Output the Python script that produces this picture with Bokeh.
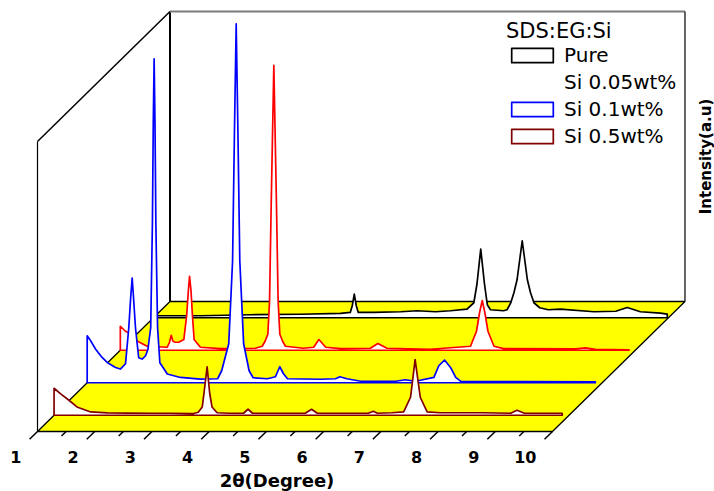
import numpy as np
from bokeh.plotting import figure
from bokeh.models import Range1d, Legend, LegendItem, Label
from bokeh.core.properties import value
from bokeh.embed import file_html
from bokeh.resources import INLINE

# ---------------- data ----------------
series_names = ["Pure", "Si 0.05wt%", "Si 0.1wt%", "Si 0.5wt%"]
series_colors = ["#000000", "#FF0000", "#0000FF", "#800000"]
legend_title = "SDS:EG:Si"

# Pure (back row)
two_theta_pure = [1.00, 1.82, 2.70, 3.57, 4.27, 4.44, 4.475, 4.51, 4.545, 4.58,
                  4.85, 5.32, 5.61, 5.93, 6.19, 6.48, 6.60, 6.655, 6.72, 6.785,
                  6.835, 6.89, 7.12, 7.18, 7.245, 7.30, 7.355, 7.445, 7.535, 7.59,
                  7.65, 7.75, 7.90, 8.11, 8.70, 9.08, 9.28, 9.51, 9.86, 9.98]
intensity_pure = [2, 2, 3, 3.5, 4.3, 5.3, 12, 23.7, 12, 5.3,
                  5.3, 6, 7, 6, 7, 8.7, 15, 34, 68.7, 34,
                  13, 8, 7, 8, 15, 25, 38, 77, 38, 25,
                  15, 10, 8, 8.7, 6, 6.5, 10.3, 6, 4.7, 3.7]

# Si 0.05wt%
two_theta_005 = [1.00, 1.09, 1.15, 1.30, 1.47, 1.82, 1.86, 1.89, 1.92, 1.96,
                 2.02, 2.11, 2.16, 2.19, 2.21, 2.235, 2.26, 2.29, 2.40, 2.75,
                 3.36, 3.48, 3.53, 3.578, 3.608, 3.638, 3.683, 3.728, 3.758, 3.788,
                 3.836, 3.886, 4.20, 4.38, 4.47, 4.59, 4.85, 5.37, 5.50, 5.66,
                 6.42, 7.12, 7.225, 7.28, 7.325, 7.37, 7.425, 7.53, 7.70, 8.96,
                 9.13, 9.30, 9.89]
intensity_005 = [24, 19, 17.3, 9, 4, 3, 8, 15, 9, 8,
                 8, 10.7, 35, 60, 74, 60, 35, 10.7, 3, 1.7,
                 2, 4, 9, 16, 49, 149, 285, 149, 49, 16,
                 9, 4, 2, 3, 10.7, 3, 1.7, 2, 6.7, 2,
                 1, 4, 19, 38, 49.7, 38, 19, 4, 1.7, 1.5,
                 2.3, 1, 0.5]

# Si 0.1wt%
two_theta_01 = [1.00, 1.06, 1.145, 1.26, 1.35, 1.495, 1.58, 1.67, 1.727, 1.76,
                1.786, 1.81, 1.844, 1.90, 1.96, 2.02, 2.06, 2.11, 2.14, 2.155,
                2.17, 2.185, 2.20, 2.23, 2.27, 2.40, 2.63, 2.98, 3.28, 3.35,
                3.474, 3.541, 3.574, 3.604, 3.634, 3.667, 3.734, 3.83, 3.90, 4.15,
                4.29, 4.366, 4.43, 4.50, 5.08, 5.34, 5.415, 5.54, 5.78, 6.39,
                6.56, 6.74, 7.06, 7.145, 7.245, 7.35, 7.44, 7.53, 8.50, 9.88]
intensity_01 = [47, 42, 33.7, 25.3, 20.3, 15.3, 13.7, 19, 55, 85,
                104.7, 85, 55, 25, 23.7, 27, 33, 55, 160, 260,
                324, 260, 160, 55, 20, 8.7, 5.3, 3.7, 4, 12,
                39, 122, 252, 359, 252, 122, 39, 12, 5, 4,
                6, 16, 9, 4, 3.5, 4, 6, 4, 1.5, 1.5,
                3, 1.5, 5.3, 17, 22.7, 15.3, 5.3, 1.3, 1.2, 1.0]

# Si 0.5wt% (front row)
two_theta_05 = [1.00, 1.11, 1.26, 1.40, 1.64, 1.93, 2.30, 2.68, 3.05, 3.44,
                3.52, 3.59, 3.62, 3.675, 3.72, 3.76, 3.85, 4.05, 4.31, 4.39,
                4.47, 4.70, 4.96, 5.39, 5.50, 5.60, 6.00, 6.49, 6.58, 6.65,
                6.90, 7.11, 7.23, 7.31, 7.40, 7.52, 7.75, 8.10, 8.50, 8.98,
                9.09, 9.22, 9.50, 9.88]
intensity_05 = [27, 21.7, 15, 8.3, 3.3, 2.3, 2.2, 2, 2, 1.7,
                3, 8.3, 22, 48.3, 22, 8.3, 2.5, 2, 2, 6,
                2, 2, 2, 2, 6, 2, 2, 2, 4, 2,
                2.5, 3.3, 18, 55.7, 18, 3.3, 2.5, 2.5, 2.5, 2,
                5, 2, 2, 2]

series_x = [two_theta_pure, two_theta_005, two_theta_01, two_theta_05]
series_y = [intensity_pure, intensity_005, intensity_01, intensity_05]

tick_values = [1, 2, 3, 4, 5, 6, 7, 8, 9, 10]
tick_labels = ["1", "2", "3", "4", "5", "6", "7", "8", "9", "10"]
minor_tick_values = [1.5, 2.5, 3.5, 4.5, 5.5, 6.5, 7.5, 8.5, 9.5]

X_MIN, X_MAX = 1.0, 10.0
Z_MAX = 290.0            # top of the intensity (wall) axis

# ---------------- layout / projection ----------------
W, H = 714, 491
PX_PER_X = 57.22         # pixels per degree along the front edge
LEFT_PX, BOTTOM_PX = 37, 60
DEPTH_DX = 132.5 / PX_PER_X   # x shift of full depth (in degrees)
DEPTH_DY = 130.0              # y shift of full depth (intensity units = px)
depth_pos = [0.875, 0.625, 0.375, 0.125]   # back -> front

FONT = value("DejaVu Sans")

p = figure(width=W, height=H, output_backend="svg", toolbar_location=None,
           x_range=Range1d(X_MIN - LEFT_PX / PX_PER_X, X_MIN + (W - LEFT_PX) / PX_PER_X),
           y_range=Range1d(-BOTTOM_PX, H - BOTTOM_PX),
           x_axis_type=None, y_axis_type=None, min_border=0)
p.outline_line_color = None
p.background_fill_color = "white"
p.border_fill_color = "white"

bx0, bx1 = X_MIN + DEPTH_DX, X_MAX + DEPTH_DX

# walls
p.line([X_MIN, X_MIN], [0, Z_MAX], line_color="black", line_width=1.2)
p.line([X_MIN, bx0], [Z_MAX, DEPTH_DY + Z_MAX], line_color="black", line_width=1.5)
p.line([bx0, bx0], [DEPTH_DY, DEPTH_DY + Z_MAX], line_color="black", line_width=2)
p.line([bx0, bx1], [DEPTH_DY + Z_MAX, DEPTH_DY + Z_MAX], line_color="#7a7a7a", line_width=2.2)
p.line([bx1, bx1], [DEPTH_DY, DEPTH_DY + Z_MAX], line_color="#333333", line_width=1.5)

# floor
p.patch([X_MIN, X_MAX, bx1, bx0], [0, 0, DEPTH_DY, DEPTH_DY],
        fill_color="#FFFF00", line_color="black", line_width=1.3)

# series (back to front)
renderers = []
for xs, ys, d, c in zip(series_x, series_y, depth_pos, series_colors):
    xs = np.asarray(xs, dtype=float)
    ys = np.asarray(ys, dtype=float)
    px = np.concatenate([[xs[0]], xs, [xs[-1]]]) + d * DEPTH_DX
    py = np.concatenate([[0.0], ys, [0.0]]) + d * DEPTH_DY
    r = p.patch(px, py, fill_color="white", line_color=c, line_width=1.7,
                line_join="round")
    renderers.append(r)

# x ticks (pointing toward the viewer along the depth direction)
maj = np.asarray(tick_values, dtype=float)
mnr = np.asarray(minor_tick_values, dtype=float)
p.segment(x0=maj, y0=np.zeros_like(maj), x1=maj - 0.06 * DEPTH_DX, y1=-0.06 * DEPTH_DY * np.ones_like(maj),
          line_color="black", line_width=1.5)
p.segment(x0=mnr, y0=np.zeros_like(mnr), x1=mnr - 0.035 * DEPTH_DX, y1=-0.035 * DEPTH_DY * np.ones_like(mnr),
          line_color="black", line_width=1.5)
p.text(x=maj, y=-25 * np.ones_like(maj), text=tick_labels, x_offset=-16,
       text_align="right", text_baseline="middle", text_font=FONT,
       text_font_style="bold", text_font_size="16px", text_color="black")

p.add_layout(Label(x=(X_MIN + X_MAX) / 2, y=-49, x_offset=-18, text="2θ(Degree)",
                   text_align="center", text_baseline="middle", text_font="DejaVu Sans",
                   text_font_style="bold", text_font_size="18px", text_color="black"))
p.add_layout(Label(x=bx1, y=DEPTH_DY + Z_MAX / 2, x_offset=21, text="Intensity(a.u)",
                   angle=np.pi / 2, text_align="center", text_baseline="middle",
                   text_font="DejaVu Sans", text_font_style="bold", text_font_size="15px",
                   text_color="black"))

# legend
dummy = p.patch(x=[], y=[], fill_alpha=0, line_alpha=0)
items = [LegendItem(label=series_names[0], renderers=[renderers[0]]),
         LegendItem(label=series_names[1], renderers=[dummy]),
         LegendItem(label=series_names[2], renderers=[renderers[2]]),
         LegendItem(label=series_names[3], renderers=[renderers[3]])]
legend = Legend(items=items, title=legend_title, location=(506, 343),
                glyph_width=52, glyph_height=18, label_standoff=6, spacing=3,
                padding=5, margin=0, label_height=24,
                border_line_color=None, background_fill_alpha=0,
                label_text_font="DejaVu Sans", label_text_font_size="20px",
                label_text_color="black",
                title_text_font="DejaVu Sans", title_text_font_size="21px",
                title_text_font_style="normal", title_text_color="black",
                title_standoff=0)
p.add_layout(legend)

open("out.html", "w").write(file_html(p, INLINE))
